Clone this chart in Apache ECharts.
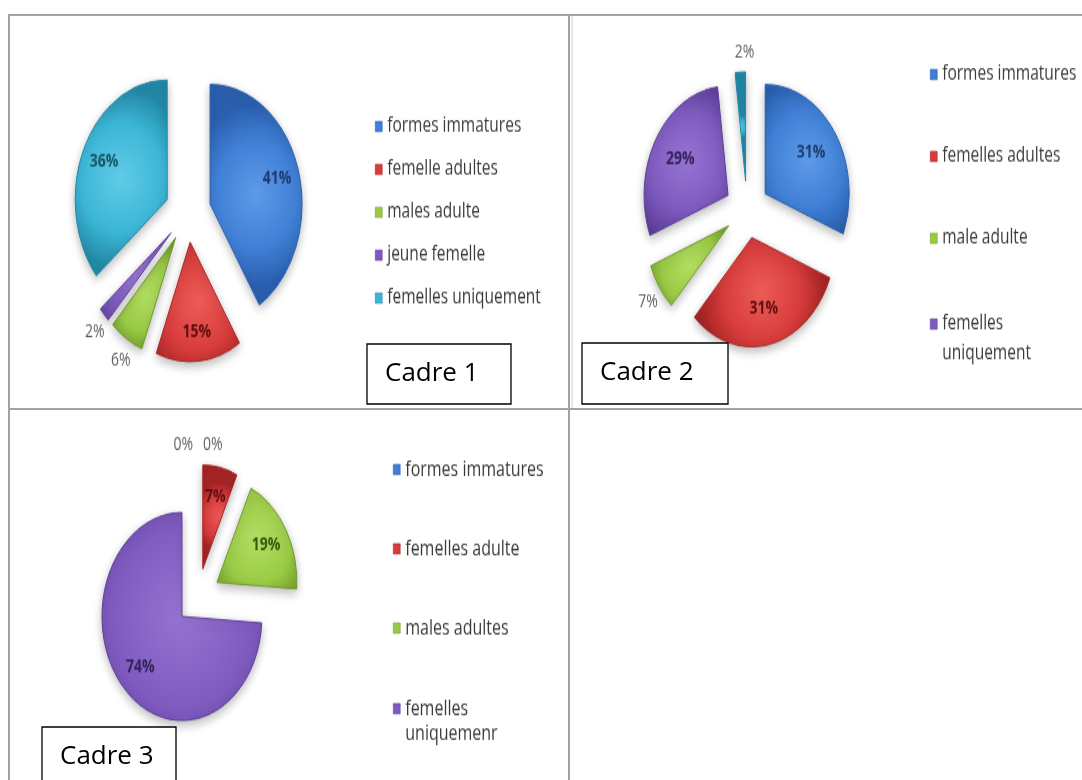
<!DOCTYPE html>
<html>
<head>
<meta charset="utf-8">
<script src="https://cdn.jsdelivr.net/npm/echarts/dist/echarts.min.js"></script>
<style>
  html, body { margin: 0; padding: 0; background: #ffffff; width: 1082px; height: 780px; overflow: hidden; }
  .cell { position: absolute; transform: scaleY(1.3); transform-origin: 0 0; }
  #frame { position: absolute; left: 0; top: 0; width: 1082px; height: 780px; }
</style>
</head>
<body>
<div id="c1" class="cell" style="left:10px;top:16px;width:558px;height:301px"></div>
<div id="c2" class="cell" style="left:572px;top:16px;width:510px;height:301px"></div>
<div id="c3" class="cell" style="left:10px;top:411px;width:558px;height:284px"></div>
<div id="frame"></div>
<script>
// ---- data ----
const cadre1Names = ['formes immatures', 'femelle adultes', 'males adulte', 'jeune femelle', 'femelles uniquement'];
const cadre1Values = [41, 15, 6, 2, 36];

const cadre2Names = ['formes immatures', 'femelles adultes', 'male adulte', 'femelles uniquement', ''];
const cadre2Values = [31, 31, 7, 29, 2];

const cadre3Names = ['formes immatures', 'femelles adulte', 'males adultes', 'femelles uniquemenr', ''];
const cadre3Values = [0, 7, 19, 74, 0];

const frameTitles = ['Cadre 1', 'Cadre 2', 'Cadre 3'];

// ---- palette (one entry per category position) ----
const PALETTE = [
  { base: '#3f7fd5', light: '#5e9ae8', dark: '#2a5fae', text: '#1d3d70' },
  { base: '#d83c3c', light: '#ec5c57', dark: '#a52424', text: '#5e0f0f' },
  { base: '#9acb45', light: '#b2dd62', dark: '#6e992a', text: '#35570f' },
  { base: '#7e5abf', light: '#9674d2', dark: '#5c3e97', text: '#33235a' },
  { base: '#3cb6d6', light: '#60cce7', dark: '#2388a7', text: '#1a5566' }
];

const FONT = '"Open Sans", "Noto Sans", sans-serif';

function sliceFill(p) {
  return {
    type: 'radial', x: 0.5, y: 0.5, r: 0.75,
    colorStops: [
      { offset: 0, color: p.light },
      { offset: 0.6, color: p.base },
      { offset: 1, color: p.dark }
    ]
  };
}

// greedy word wrap measured with the legend font
const measureCtx = document.createElement('canvas').getContext('2d');
function wrapWords(text, maxWidth, font) {
  if (!maxWidth) return [text];
  measureCtx.font = font;
  const words = text.split(' ');
  const lines = [];
  let line = '';
  words.forEach(w => {
    const trial = line ? line + ' ' + w : w;
    if (line && measureCtx.measureText(trial).width > maxWidth) {
      lines.push(line);
      line = w;
    } else {
      line = trial;
    }
  });
  if (line) lines.push(line);
  return lines;
}

const cells = [
  {
    el: 'c1', names: cadre1Names, values: cadre1Values,
    center: [178, 151], radius: 92, explode: 23, ringScale: 1.45,
    outside: [false, false, true, true, false],
    outLen: [20, 20, 20, 20, 20], outLen2: [-20, -20, -20, -20, -20],
    legend: { left: 365, top: 77, gap: 17, lineHeight: 16, fontSize: 15.5, wrap: null, firstLine: 16 }
  },
  {
    el: 'c2', names: cadre2Names, values: cadre2Values,
    center: [175, 149], radius: 84, explode: 22, ringScale: 1.25,
    outside: [false, false, true, false, true],
    outLen: [20, 20, 20, 20, 15], outLen2: [-20, -20, -20, -20, -20],
    legend: { left: 358, top: 33, gap: 39, lineHeight: 24, fontSize: 15.5, wrap: 142, firstLine: 30 }
  },
  {
    el: 'c3', names: cadre3Names, values: cadre3Values,
    center: [188, 143], radius: 80, explode: 22, ringScale: 1.35,
    outside: [true, false, false, false, true],
    outLen: [15, 15, 15, 15, 15], outLen2: [0, 0, 0, 0, 0],
    legend: { left: 383, top: 35, gap: 41, lineHeight: 20, fontSize: 16, wrap: 148, firstLine: 22 }
  }
];

function buildCell(cell) {
  const chart = echarts.init(document.getElementById(cell.el), null, { renderer: 'canvas' });

  // visible slices, all pulled out from the centre; empty slices get no outline
  const sliceData = cell.values.map((v, i) => ({
    name: cell.names[i],
    value: v,
    selected: true,
    itemStyle: {
      color: sliceFill(PALETTE[i]),
      borderColor: v > 0 ? PALETTE[i].dark : 'rgba(0,0,0,0)',
      borderWidth: v > 0 ? 1 : 0,
      shadowBlur: v > 0 ? 8 : 0,
      shadowOffsetY: v > 0 ? 3 : 0,
      shadowColor: v > 0 ? 'rgba(0,0,0,0.28)' : 'rgba(0,0,0,0)'
    },
    label: cell.outside[i]
      ? { show: true, position: 'outside', color: '#5f5f5f', fontSize: 14, fontFamily: FONT, formatter: '{c}%' }
      : { show: false },
    labelLine: { show: false, length: cell.outLen[i], length2: cell.outLen2[i] }
  }));

  // transparent twin ring that carries the in-slice percentages a bit further out
  const labelData = cell.values.map((v, i) => ({
    name: cell.names[i],
    value: v,
    selected: true,
    itemStyle: { color: 'rgba(0,0,0,0)', borderWidth: 0 },
    label: {
      show: !cell.outside[i],
      position: 'inside',
      color: PALETTE[i].text,
      fontSize: 14,
      fontWeight: 'bold',
      fontFamily: FONT,
      formatter: '{c}%'
    }
  }));

  const legendData = cell.names
    .map((n, i) => ({ name: n, itemStyle: { color: PALETTE[i].base, borderColor: PALETTE[i].dark, borderWidth: 0.5, opacity: 1 } }))
    .filter(d => d.name);

  const legendFont = cell.legend.fontSize + 'px ' + FONT;

  chart.setOption({
    animation: false,
    backgroundColor: 'transparent',
    legend: {
      orient: 'vertical',
      left: cell.legend.left,
      top: cell.legend.top,
      padding: 0,
      itemGap: cell.legend.gap,
      itemWidth: 7,
      itemHeight: 8,
      icon: 'rect',
      selectedMode: false,
      formatter: function (name) {
        const lines = wrapWords(name, cell.legend.wrap, legendFont);
        if (lines.length < 2) return name;
        return '{first|' + lines[0] + '}\n{rest|' + lines.slice(1).join(' ') + '}';
      },
      textStyle: {
        color: '#3a3a3a',
        fontSize: cell.legend.fontSize,
        fontFamily: FONT,
        lineHeight: cell.legend.lineHeight,
        rich: {
          first: { lineHeight: cell.legend.firstLine },
          rest: { lineHeight: 0, verticalAlign: 'top' }
        }
      },
      data: legendData
    },
    series: [
      {
        type: 'pie',
        center: cell.center,
        radius: cell.radius,
        startAngle: 90,
        clockwise: true,
        selectedMode: 'multiple',
        selectedOffset: cell.explode,
        avoidLabelOverlap: false,
        emphasis: { disabled: true },
        data: sliceData
      },
      {
        type: 'pie',
        silent: true,
        center: cell.center,
        radius: cell.radius * cell.ringScale,
        startAngle: 90,
        clockwise: true,
        selectedMode: 'multiple',
        selectedOffset: cell.explode,
        avoidLabelOverlap: false,
        labelLine: { show: false },
        emphasis: { disabled: true },
        data: labelData
      }
    ]
  });
}

cells.forEach(buildCell);

// ---- table frame and caption boxes ----
const frame = echarts.init(document.getElementById('frame'), null, { renderer: 'canvas' });
const rule = { stroke: '#a3a3a3', lineWidth: 2 };
const boxes = [
  { x: 367, y: 344, w: 144, h: 60 },
  { x: 582, y: 343, w: 146, h: 61 },
  { x: 42, y: 727, w: 134, h: 60 }
];
const graphics = [
  { type: 'line', shape: { x1: 8, y1: 15, x2: 1082, y2: 15 }, style: rule },
  { type: 'line', shape: { x1: 9, y1: 14, x2: 9, y2: 780 }, style: rule },
  { type: 'line', shape: { x1: 569, y1: 14, x2: 569, y2: 780 }, style: rule },
  { type: 'line', shape: { x1: 572, y1: 16, x2: 572, y2: 408 }, style: { stroke: '#d0d0d0', lineWidth: 1 } },
  { type: 'line', shape: { x1: 8, y1: 409, x2: 1082, y2: 409 }, style: rule }
];
boxes.forEach((b, i) => {
  graphics.push({
    type: 'rect', z: 10,
    shape: { x: b.x, y: b.y, width: b.w, height: b.h },
    style: { fill: '#ffffff', stroke: '#000000', lineWidth: 1.3 }
  });
  graphics.push({
    type: 'text', z: 11,
    x: b.x + 18, y: b.y + 30,
    style: { text: frameTitles[i], fill: '#000000', font: '26px ' + FONT, verticalAlign: 'middle', align: 'left' }
  });
});
frame.setOption({ animation: false, backgroundColor: 'transparent', graphic: graphics });
</script>
</body>
</html>
